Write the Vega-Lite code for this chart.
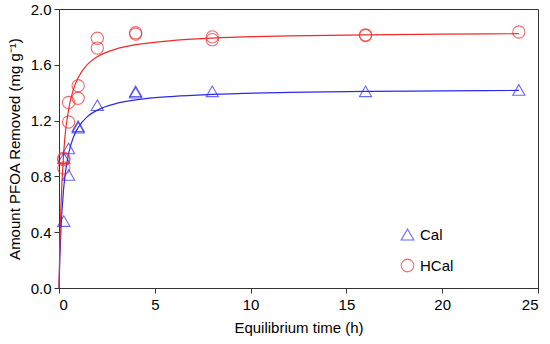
{
  "$schema": "https://vega.github.io/schema/vega-lite/v6.json",
  "width": 479,
  "height": 279,
  "autosize": {"type": "none"},
  "padding": {"left": 59, "top": 9, "right": 12, "bottom": 56},
  "background": "white",
  "config": {
    "font": "Liberation Sans",
    "view": {"stroke": "#333333", "strokeWidth": 1},
    "axis": {"grid": false, "domainColor": "#333333", "tickColor": "#333333", "labelColor": "black", "titleColor": "black", "labelFont": "Liberation Sans", "titleFont": "Liberation Sans", "titleFontWeight": "normal", "labelFontSize": 15, "titleFontSize": 15, "tickSize": 5},
    "legend": {"title": null, "orient": "none", "legendX": 341, "legendY": 218, "padding": 0, "labelFontSize": 15, "labelFont": "Liberation Sans", "labelColor": "black", "symbolSize": 160, "symbolStrokeWidth": 1.1, "rowPadding": 13, "labelOffset": 5, "symbolFillColor": "transparent"}
  },
  "datasets": {
    "pts": [
      {"t": 0.25, "q": 0.48, "s": "Cal"},
      {"t": 0.25, "q": 0.93, "s": "Cal"},
      {"t": 0.5, "q": 0.81, "s": "Cal"},
      {"t": 0.5, "q": 1.0, "s": "Cal"},
      {"t": 1, "q": 1.15, "s": "Cal"},
      {"t": 1, "q": 1.16, "s": "Cal"},
      {"t": 2, "q": 1.31, "s": "Cal"},
      {"t": 4, "q": 1.40, "s": "Cal"},
      {"t": 4, "q": 1.41, "s": "Cal"},
      {"t": 8, "q": 1.41, "s": "Cal"},
      {"t": 16, "q": 1.41, "s": "Cal"},
      {"t": 24, "q": 1.42, "s": "Cal"},
      {"t": 0.25, "q": 0.86, "s": "HCal"},
      {"t": 0.25, "q": 0.92, "s": "HCal"},
      {"t": 0.25, "q": 0.93, "s": "HCal"},
      {"t": 0.5, "q": 1.19, "s": "HCal"},
      {"t": 0.5, "q": 1.33, "s": "HCal"},
      {"t": 1, "q": 1.36, "s": "HCal"},
      {"t": 1, "q": 1.45, "s": "HCal"},
      {"t": 2, "q": 1.72, "s": "HCal"},
      {"t": 2, "q": 1.79, "s": "HCal"},
      {"t": 4, "q": 1.82, "s": "HCal"},
      {"t": 4, "q": 1.83, "s": "HCal"},
      {"t": 8, "q": 1.78, "s": "HCal"},
      {"t": 8, "q": 1.80, "s": "HCal"},
      {"t": 16, "q": 1.81, "s": "HCal"},
      {"t": 16, "q": 1.815, "s": "HCal"},
      {"t": 24, "q": 1.835, "s": "HCal"}
    ],
    "fit": [
      {"t": 0, "q": 0, "s": "Cal"},
      {"t": 0.05, "q": 0.244, "s": "Cal"},
      {"t": 0.1, "q": 0.417, "s": "Cal"},
      {"t": 0.25, "q": 0.725, "s": "Cal"},
      {"t": 0.5, "q": 0.962, "s": "Cal"},
      {"t": 0.75, "q": 1.08, "s": "Cal"},
      {"t": 1, "q": 1.15, "s": "Cal"},
      {"t": 1.5, "q": 1.231, "s": "Cal"},
      {"t": 2, "q": 1.275, "s": "Cal"},
      {"t": 3, "q": 1.323, "s": "Cal"},
      {"t": 4, "q": 1.348, "s": "Cal"},
      {"t": 6, "q": 1.374, "s": "Cal"},
      {"t": 8, "q": 1.388, "s": "Cal"},
      {"t": 12, "q": 1.402, "s": "Cal"},
      {"t": 16, "q": 1.409, "s": "Cal"},
      {"t": 20, "q": 1.413, "s": "Cal"},
      {"t": 24, "q": 1.416, "s": "Cal"},
      {"t": 0, "q": 0, "s": "HCal"},
      {"t": 0.05, "q": 0.341, "s": "HCal"},
      {"t": 0.1, "q": 0.575, "s": "HCal"},
      {"t": 0.25, "q": 0.979, "s": "HCal"},
      {"t": 0.5, "q": 1.278, "s": "HCal"},
      {"t": 0.75, "q": 1.423, "s": "HCal"},
      {"t": 1, "q": 1.508, "s": "HCal"},
      {"t": 1.5, "q": 1.605, "s": "HCal"},
      {"t": 2, "q": 1.658, "s": "HCal"},
      {"t": 3, "q": 1.714, "s": "HCal"},
      {"t": 4, "q": 1.744, "s": "HCal"},
      {"t": 6, "q": 1.775, "s": "HCal"},
      {"t": 8, "q": 1.791, "s": "HCal"},
      {"t": 12, "q": 1.807, "s": "HCal"},
      {"t": 16, "q": 1.815, "s": "HCal"},
      {"t": 20, "q": 1.82, "s": "HCal"},
      {"t": 24, "q": 1.823, "s": "HCal"}
    ]
  },
  "layer": [
    {
      "data": {"name": "fit"},
      "mark": {"type": "line", "interpolate": "monotone", "strokeWidth": 1.2},
      "encoding": {
        "x": {"field": "t", "type": "quantitative", "scale": {"domain": [0, 25], "nice": false}, "axis": {"values": [0, 5, 10, 15, 20, 25], "title": "Equilibrium time (h)", "titlePadding": 8, "labelPadding": 4}},
        "y": {"field": "q", "type": "quantitative", "scale": {"domain": [0, 2], "nice": false}, "axis": {"values": [0, 0.4, 0.8, 1.2, 1.6, 2.0], "format": ".1f", "title": "Amount PFOA Removed (mg g⁻¹)", "titlePadding": 8, "labelPadding": 3}},
        "color": {"field": "s", "type": "nominal", "scale": {"domain": ["Cal", "HCal"], "range": ["#2a2af0", "#f02a2a"]}}
      }
    },
    {
      "data": {"name": "pts"},
      "mark": {"type": "point", "filled": false, "strokeWidth": 1.1, "size": 150},
      "encoding": {
        "x": {"field": "t", "type": "quantitative"},
        "y": {"field": "q", "type": "quantitative"},
        "color": {"field": "s", "type": "nominal", "scale": {"domain": ["Cal", "HCal"], "range": ["#2a2af0", "#f02a2a"]}},
        "shape": {"field": "s", "type": "nominal", "scale": {"domain": ["Cal", "HCal"], "range": ["triangle-up", "circle"]}}
      }
    }
  ]
}
